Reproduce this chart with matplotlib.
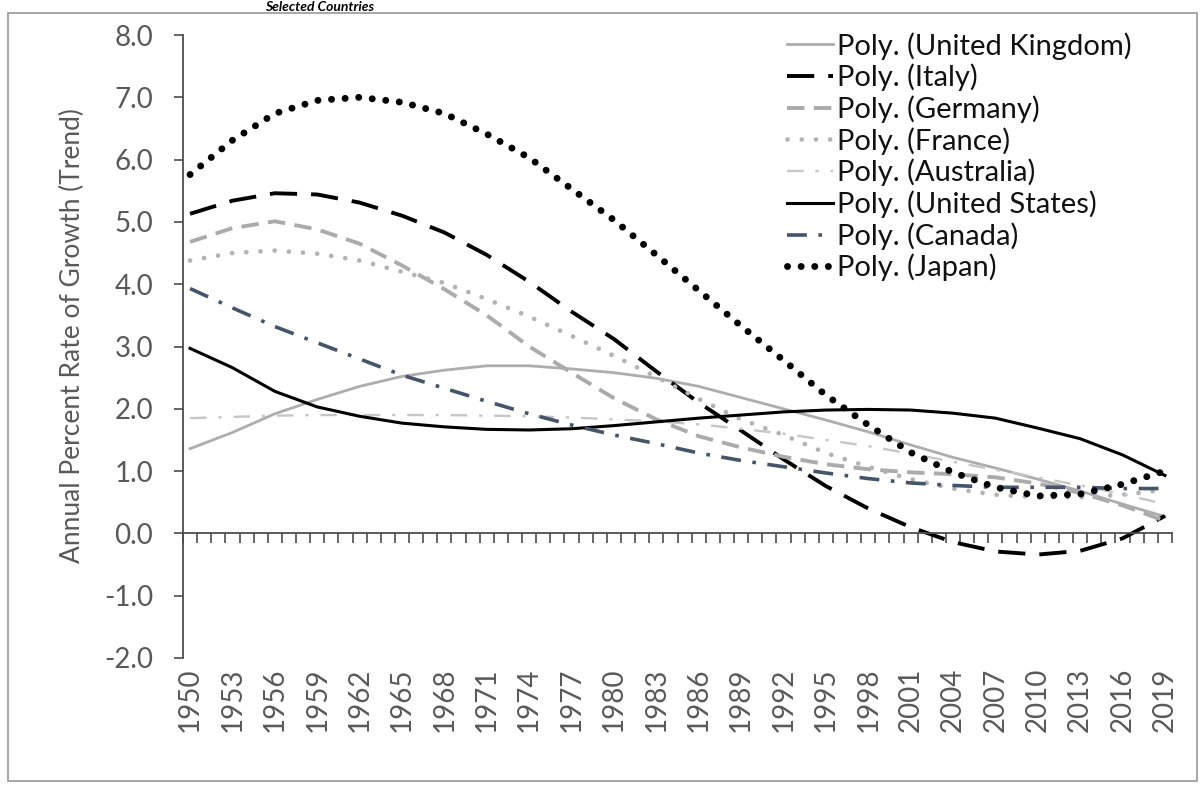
import matplotlib
matplotlib.use('Agg')
import matplotlib.pyplot as plt
from matplotlib.patches import Rectangle
from matplotlib.ticker import FormatStrFormatter
import numpy as np

plt.rcParams['font.family'] = ['Lato', 'DejaVu Sans']
plt.rcParams['axes.unicode_minus'] = False

# ---- data (every 3 years) ----
years = list(range(1950, 2020, 3))
uk = [1.36, 1.62, 1.92, 2.15, 2.36, 2.52, 2.62, 2.69, 2.69, 2.64, 2.58, 2.49,
      2.36, 2.18, 2.00, 1.82, 1.63, 1.42, 1.22, 1.05, 0.87, 0.68, 0.47, 0.27]
italy = [5.13, 5.34, 5.46, 5.44, 5.31, 5.10, 4.83, 4.47, 4.04, 3.56, 3.12, 2.60,
         2.10, 1.65, 1.19, 0.76, 0.40, 0.10, -0.14, -0.29, -0.34, -0.28, -0.08, 0.28]
germany = [4.68, 4.90, 5.01, 4.88, 4.65, 4.30, 3.92, 3.50, 3.00, 2.58, 2.17, 1.83,
           1.56, 1.38, 1.23, 1.11, 1.03, 0.98, 0.95, 0.90, 0.80, 0.65, 0.45, 0.20]
france = [4.38, 4.50, 4.54, 4.49, 4.38, 4.20, 4.02, 3.76, 3.48, 3.17, 2.85, 2.51,
          2.16, 1.83, 1.58, 1.29, 1.07, 0.87, 0.72, 0.62, 0.58, 0.58, 0.62, 0.70]
australia = [1.85, 1.87, 1.89, 1.90, 1.90, 1.90, 1.90, 1.89, 1.88, 1.86, 1.83, 1.80,
             1.75, 1.68, 1.60, 1.50, 1.40, 1.28, 1.15, 1.02, 0.90, 0.77, 0.63, 0.47]
us = [2.97, 2.66, 2.28, 2.03, 1.88, 1.77, 1.71, 1.67, 1.66, 1.68, 1.73, 1.79,
      1.85, 1.90, 1.95, 1.98, 1.99, 1.98, 1.93, 1.85, 1.69, 1.52, 1.26, 0.93]
canada = [3.93, 3.62, 3.32, 3.06, 2.80, 2.54, 2.33, 2.12, 1.92, 1.74, 1.58, 1.44,
          1.29, 1.17, 1.07, 0.97, 0.88, 0.81, 0.77, 0.74, 0.74, 0.74, 0.72, 0.72]
japan = [5.76, 6.31, 6.74, 6.95, 7.00, 6.92, 6.74, 6.41, 6.03, 5.53, 5.03, 4.47,
         3.90, 3.33, 2.78, 2.22, 1.74, 1.30, 0.98, 0.74, 0.60, 0.63, 0.79, 1.00]

series_names = ['Poly. (United Kingdom)', 'Poly. (Italy)', 'Poly. (Germany)',
                'Poly. (France)', 'Poly. (Australia)', 'Poly. (United States)',
                'Poly. (Canada)', 'Poly. (Japan)']
series_values = [uk, italy, germany, france, australia, us, canada, japan]
tick_years = list(range(1950, 2020, 3))
y_ticks = list(range(-2, 9))

styles = [
    dict(color='#ADADAD', lw=2.0, ls='-'),
    dict(color='black', lw=2.8, ls=(0, (7, 3.6)), dash_capstyle='butt'),
    dict(color='#ABABAB', lw=2.8, ls=(0, (4.5, 2.4)), dash_capstyle='butt'),
    dict(color='#B3B3B3', lw=3.4, ls=(0, (0.01, 3.0)), dash_capstyle='round'),
    dict(color='#C6C6C6', lw=1.7, ls=(0, (7, 5, 1.4, 5)), dash_capstyle='butt'),
    dict(color='black', lw=2.2, ls='-'),
    dict(color='#44546A', lw=2.6, ls=(0, (5.5, 3.2, 1, 3.2)), dash_capstyle='butt'),
    dict(color='black', lw=5.0, ls=(0, (0.01, 1.95)), dash_capstyle='round'),
]

W, H = 1203, 787
fig = plt.figure(figsize=(W / 100, H / 100), dpi=100)
ax = fig.add_axes([183 / W, 1 - 658 / H, (1172 - 183) / W, (658 - 35) / H])

for name, vals, st in zip(series_names, series_values, styles):
    ax.plot(years, vals, label=name, **st)

ax.set_xlim(1949.5, 2019.5)
ax.set_ylim(-2, 8)

axis_col = '#4D4D4D'
text_col = '#595959'
for s in ['top', 'right']:
    ax.spines[s].set_visible(False)
ax.spines['left'].set_color(axis_col)
ax.spines['left'].set_linewidth(1.3)
ax.spines['bottom'].set_position(('data', 0))
ax.spines['bottom'].set_color(axis_col)
ax.spines['bottom'].set_linewidth(1.3)

ax.set_xticks(np.arange(1949.5, 2020.0, 1.0))
ax.set_xticklabels([])
ax.tick_params(axis='x', direction='out', length=7, width=1.2, color=axis_col)

ax.set_yticks(y_ticks)
ax.yaxis.set_major_formatter(FormatStrFormatter('%.1f'))
ax.tick_params(axis='y', direction='out', length=6.5, width=1.2, color=axis_col,
               labelsize=20, labelcolor=text_col, pad=15)

sec = ax.secondary_xaxis(0.0)
sec.set_xticks(tick_years)
sec.set_xticklabels([str(y) for y in tick_years], rotation=90)
sec.tick_params(axis='x', length=0, pad=7, labelsize=20, labelcolor=text_col)
sec.spines['bottom'].set_visible(False)

fig.text(72 / W, 1 - 336 / H, 'Annual Percent Rate of Growth (Trend)', rotation=90,
         ha='center', va='center', fontsize=19, color=text_col)

fig.text(320 / W, 1 - 11 / H, 'Selected Countries', ha='center', va='baseline',
         fontsize=10, fontweight='bold', fontstyle='italic', color='black')

fig.add_artist(Rectangle((8 / W, 1 - 781 / H), (1197 - 8) / W, (781 - 13) / H,
                         transform=fig.transFigure, fill=False,
                         edgecolor='#A0A0A0', lw=1.3))

leg = ax.legend(loc='upper left', bbox_to_anchor=(787 / W, 1 - 32 / H),
                bbox_transform=fig.transFigure, frameon=False, fontsize=21,
                handlelength=1.56, handletextpad=0.17, labelspacing=0.14,
                borderpad=0, borderaxespad=0)
for t in leg.get_texts():
    t.set_color('#111111')

fig.savefig('out.png', dpi=100)
